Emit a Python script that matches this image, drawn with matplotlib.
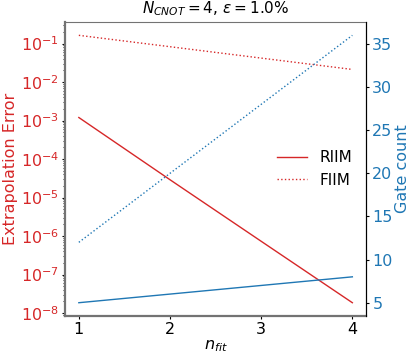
import numpy as np
import matplotlib.pyplot as plt

n_fit = [1, 2, 3, 4]
err_riim = [1.2e-3, 2.9e-5, 7.3e-7, 1.85e-8]
err_fiim = [0.164, 0.083, 0.042, 0.0213]
gates_riim = [5, 6, 7, 8]
gates_fiim = [12, 20, 28, 36]

red = 'tab:red'
blue = 'tab:blue'

fig, ax1 = plt.subplots(figsize=(4.15, 3.6), dpi=100)
fig.subplots_adjust(left=0.157, right=0.882, top=0.939, bottom=0.122)

ax1.plot(n_fit, err_riim, color=red, linestyle='-', linewidth=1, label='RIIM')
ax1.plot(n_fit, err_fiim, color=red, linestyle=':', linewidth=1, label='FIIM')
ax1.set_yscale('log')
ax1.set_ylabel('Extrapolation Error', color=red, fontsize=11.5, labelpad=2)
ax1.tick_params(axis='y', which='both', labelcolor=red, labelsize=11.5, pad=2)
ax1.tick_params(axis='both', which='major', length=2.5)
ax1.tick_params(axis='y', which='minor', length=1.5)
ax1.tick_params(axis='x', labelsize=11.5, pad=2)
ax1.set_xlabel(r'$n_{fit}$', fontsize=11.5, labelpad=1)
ax1.set_xticks(n_fit)
ax1.legend(loc='center right', frameon=False, fontsize=11)
for s in ['left', 'bottom']:
    ax1.spines[s].set_color('0.45')
    ax1.spines[s].set_linewidth(1.6)
ax1.spines['top'].set_color('0.45')

ax2 = ax1.twinx()
ax2.plot(n_fit, gates_riim, color=blue, linestyle='-', linewidth=1)
ax2.plot(n_fit, gates_fiim, color=blue, linestyle=':', linewidth=1)
ax2.set_ylabel('Gate count', color=blue, fontsize=11.5, labelpad=2)
ax2.tick_params(axis='y', labelcolor=blue, labelsize=11.5, length=2.5, pad=2)
ax2.spines['left'].set_visible(False)
ax2.spines['bottom'].set_visible(False)
ax2.spines['top'].set_visible(False)

ax1.set_title(r'$N_{CNOT} = 4$, $\epsilon = 1.0\%$', fontsize=11)

fig.savefig('out.png')
